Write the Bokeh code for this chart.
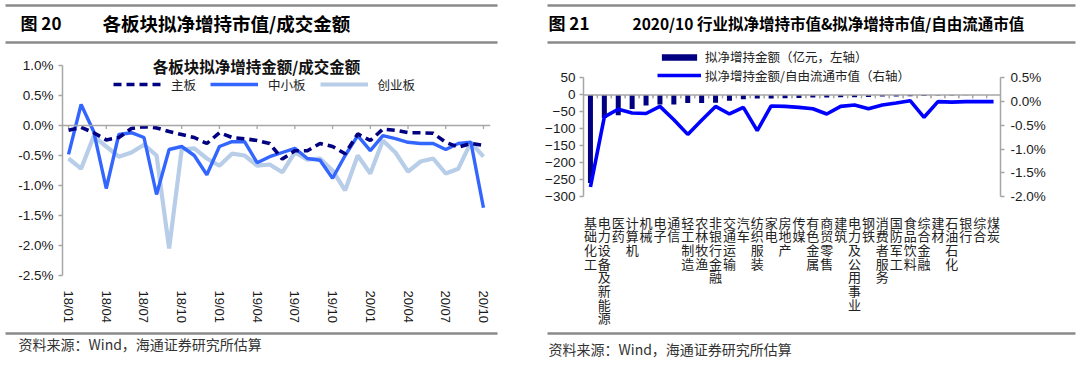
from bokeh.plotting import figure
from bokeh.models import (Range1d, FactorRange, LinearAxis, SingleIntervalTicker, FixedTicker,
                          PrintfTickFormatter, Span, Label, Legend, LegendItem, ColumnDataSource)
from bokeh.layouts import row, column
from bokeh.core.properties import value
from bokeh.transform import dodge
from bokeh.embed import file_html
from bokeh.resources import INLINE

CJK = "Noto Sans CJK SC"
LAT = "Liberation Sans"
RULE = "#8a8a8a"
AXIS = "#a6a6a6"

# ---------------- data: figure 20 ----------------
months = ["18/01", "18/02", "18/03", "18/04", "18/05", "18/06", "18/07", "18/08", "18/09", "18/10",
          "18/11", "18/12", "19/01", "19/02", "19/03", "19/04", "19/05", "19/06", "19/07", "19/08",
          "19/09", "19/10", "19/11", "19/12", "20/01", "20/02", "20/03", "20/04", "20/05", "20/06",
          "20/07", "20/08", "20/09", "20/10"]
tick_labels = ["18/01", "18/04", "18/07", "18/10", "19/01", "19/04", "19/07", "19/10",
               "20/01", "20/04", "20/07", "20/10"]
main_board = [-0.08, -0.03, -0.12, -0.24, -0.20, -0.05, -0.02, -0.04, -0.10, -0.15,
              -0.20, -0.30, -0.12, -0.20, -0.22, -0.25, -0.30, -0.56, -0.42, -0.42,
              -0.30, -0.35, -0.47, -0.14, -0.25, -0.06, -0.08, -0.12, -0.12, -0.13,
              -0.28, -0.36, -0.30, -0.33]
sme_board = [-0.48, 0.35, -0.10, -1.05, -0.15, -0.12, -0.20, -1.15, -0.40, -0.35,
             -0.50, -0.82, -0.35, -0.27, -0.27, -0.62, -0.52, -0.45, -0.38, -0.55,
             -0.58, -0.88, -0.50, -0.17, -0.42, -0.17, -0.22, -0.28, -0.30, -0.30,
             -0.40, -0.30, -0.28, -1.37]
gem_board = [-0.55, -0.72, -0.18, -0.35, -0.52, -0.45, -0.32, -0.50, -2.05, -0.40,
             -0.38, -0.55, -0.67, -0.47, -0.50, -0.67, -0.65, -0.78, -0.45, -0.57,
             -0.55, -0.75, -1.08, -0.50, -0.80, -0.25, -0.45, -0.77, -0.60, -0.55,
             -0.80, -0.72, -0.28, -0.52]
series_names = ["主板", "中小板", "创业板"]

# ---------------- data: figure 21 ----------------
industries = ["基础化工", "电力设备及新能源", "医药", "计算机", "机械", "电子", "通信", "轻工制造",
              "农林牧渔", "非银行金融", "交通运输", "汽车", "纺织服装", "家电", "房地产", "传媒",
              "有色金属", "商贸零售", "建筑", "电力及公用事业", "钢铁", "消费者服务", "国防军工",
              "食品饮料", "综合金融", "建材", "石油石化", "银行", "综合", "煤炭"]
net_amount = [-260, -68, -60, -42, -31, -28, -28, -24, -24, -23, -17, -13, -11, -11, -10,
              -9, -8, -8, -7, -7, -6, -5, -5, -4, -3, -2, -1.5, -1, -0.5, -0.3]
net_ratio = [-1.80, -0.32, -0.16, -0.24, -0.25, -0.10, -0.38, -0.69, -0.39, -0.10,
             -0.26, -0.12, -0.61, -0.09, -0.10, -0.12, -0.15, -0.26, -0.10, -0.07,
             -0.15, -0.07, -0.03, 0.02, -0.33, 0.00, -0.01, 0.00, 0.00, 0.00]
legend21 = ["拟净增持金额（亿元，左轴）", "拟净增持金额/自由流通市值（右轴）"]
source_text = "资料来源：Wind，海通证券研究所估算"

PANEL_W = 540
HEAD_H = 44
CHART_H = 286
FOOT_H = 35


def deco(height):
    return figure(width=PANEL_W, height=height, x_range=Range1d(0, PANEL_W),
                  y_range=Range1d(height, 0), x_axis_type=None, y_axis_type=None,
                  toolbar_location=None, output_backend="svg", min_border=0,
                  outline_line_color=None)


def header(fig_no, title, x_no, x_title, size, rule_x0, rule_x1):
    d = deco(HEAD_H)
    d.segment(x0=[rule_x0, rule_x0], y0=[5, 42], x1=[rule_x1, rule_x1], y1=[5, 42],
              line_color=RULE, line_width=2.4)
    d.text(x=[x_no], y=[22], text=[fig_no], text_font=value(CJK), text_font_style="bold",
           text_font_size=value("17px"), text_baseline="middle", text_color="#000000")
    d.text(x=[x_title], y=[22], text=[title], text_font=value(CJK), text_font_style="bold",
           text_font_size=value(size), text_baseline="middle", text_color="#000000")
    return d


def footer(x_text, y_text, rule_x0, rule_x1):
    d = deco(FOOT_H)
    d.segment(x0=[rule_x0], y0=[3], x1=[rule_x1], y1=[3], line_color=RULE, line_width=2.4)
    d.text(x=[x_text], y=[y_text], text=[source_text], text_font=value(CJK),
           text_font_size=value("14px"), text_baseline="middle", text_color="#333333")
    return d


def style_y(ax, interval, bounds, fmt=None, standoff=5):
    ax.ticker = SingleIntervalTicker(interval=interval, num_minor_ticks=0)
    ax.bounds = bounds
    if fmt:
        ax.formatter = PrintfTickFormatter(format=fmt)
    ax.axis_line_color = AXIS
    ax.axis_line_width = 1.5
    ax.major_tick_line_color = AXIS
    ax.major_tick_line_width = 1.5
    ax.major_tick_out = 4
    ax.major_tick_in = 0
    ax.minor_tick_line_color = None
    ax.major_label_standoff = standoff
    ax.major_label_text_font = LAT
    ax.major_label_text_font_size = "13.5px"
    ax.major_label_text_color = "#1a1a1a"


def one_legend(label, renderer, loc, glyph_h, size):
    return Legend(items=[LegendItem(label=label, renderers=[renderer])],
                  orientation="horizontal", location=loc, glyph_width=44, glyph_height=glyph_h,
                  label_height=glyph_h, padding=0, margin=0, spacing=0, label_standoff=4,
                  border_line_color=None, background_fill_alpha=0,
                  label_text_font=CJK, label_text_font_size=size, label_text_color="#222222")


# ================= Figure 20 =================
x_idx = list(range(len(months)))
tick_pos = [months.index(t) for t in tick_labels]
src20 = ColumnDataSource(dict(x=x_idx, main=main_board, sme=sme_board, gem=gem_board))

# frame spans page y 44..275; the axis itself (1.0% .. -2.5%) spans y 65..275 -> 60 px per 1 %
y_top_20 = 1.0 + 21 / 60
p1 = figure(width=PANEL_W, height=CHART_H, x_range=Range1d(-0.48, 33.56),
            y_range=Range1d(-2.5, y_top_20),
            output_backend="svg", toolbar_location=None, outline_line_color=None,
            min_border_left=62, min_border_right=50, min_border_top=0, min_border_bottom=55)
p1.grid.visible = False
style_y(p1.yaxis[0], 0.5, (-2.5, 1.0), "%.1f%%")

p1.xaxis.ticker = FixedTicker(ticks=tick_pos)
p1.xaxis.major_label_overrides = {pos: lab for pos, lab in zip(tick_pos, tick_labels)}
p1.xaxis.major_label_orientation = "vertical"
p1.xaxis.axis_line_color = None
p1.xaxis.major_tick_line_color = None
p1.xaxis.minor_tick_line_color = None
p1.xaxis.major_label_standoff = 9
p1.xaxis.major_label_text_font = LAT
p1.xaxis.major_label_text_font_size = "13px"
p1.xaxis.major_label_text_color = "#1a1a1a"

p1.add_layout(Span(location=0, dimension="width", line_color=AXIS, line_width=1.5))
p1.segment(x0=tick_pos, y0=[0] * len(tick_pos), x1=tick_pos, y1=[-0.06] * len(tick_pos),
           line_color=AXIS, line_width=1.3)

r_gem = p1.line("x", "gem", source=src20, line_color="#b8cde8", line_width=4.2)
r_sme = p1.line("x", "sme", source=src20, line_color="#3366ff", line_width=3.4)
r_main = p1.line("x", "main", source=src20, line_color="#000080", line_width=3.6, line_dash="8 5")

p1.add_layout(Label(x=194, y=210, x_units="screen", y_units="screen",
                    text="各板块拟净增持金额/成交金额", text_align="center", text_baseline="middle",
                    text_font=CJK, text_font_style="bold", text_font_size="15.5px",
                    text_color="#111111"))

leg1 = Legend(items=[LegendItem(label=series_names[0], renderers=[r_main]),
                     LegendItem(label=series_names[1], renderers=[r_sme]),
                     LegendItem(label=series_names[2], renderers=[r_gem])],
              orientation="horizontal", location=(51, 181.5), glyph_width=48, glyph_height=14,
              label_height=14, padding=0, margin=0, spacing=14, label_standoff=10,
              border_line_color=None, background_fill_alpha=0,
              label_text_font=CJK, label_text_font_size="12.5px", label_text_color="#222222")
p1.add_layout(leg1)

# ================= Figure 21 =================
cats = ["\n".join(name) for name in industries]
src21 = ColumnDataSource(dict(cat=cats, amount=net_amount, ratio=net_ratio))

# frame spans page y 44..203; axes (50 .. -300 and 0.5% .. -2.0%) span y 79..203
y_top_21 = 50 + 35 * 350 / 124
y2_top_21 = 0.5 + 35 * 2.5 / 124
p2 = figure(width=PANEL_W, height=CHART_H, x_range=FactorRange(factors=cats),
            y_range=Range1d(-300, y_top_21),
            output_backend="svg", toolbar_location=None, outline_line_color=None,
            min_border_left=43, min_border_right=80, min_border_top=0, min_border_bottom=127)
p2.grid.visible = False
p2.extra_y_ranges = {"pct": Range1d(-2.0, y2_top_21)}
p2.add_layout(LinearAxis(y_range_name="pct"), "right")
style_y(p2.yaxis[0], 50, (-300, 50), None, 4)
style_y(p2.yaxis[1], 0.5, (-2.0, 0.5), "%.1f%%", 6)

p2.xaxis.axis_line_color = None
p2.xaxis.major_tick_line_color = None
p2.xaxis.minor_tick_line_color = None
p2.xaxis.major_label_standoff = 10
p2.xaxis.major_label_text_font = CJK
p2.xaxis.major_label_text_font_size = "13px"
p2.xaxis.major_label_text_line_height = 0.72
p2.xaxis.major_label_text_color = "#222222"

p2.add_layout(Span(location=0, dimension="width", line_color=AXIS, line_width=1.5))
for off in (-0.5, 0.5):
    p2.segment(x0=dodge("cat", off, range=p2.x_range), y0=0, x1=dodge("cat", off, range=p2.x_range),
               y1=-10, source=src21, line_color=AXIS, line_width=1.2)

r_bar = p2.vbar(x="cat", top="amount", width=0.36, source=src21, fill_color="#000080",
                line_color=None)
r_line = p2.line(x="cat", y="ratio", source=src21, y_range_name="pct", line_color="#0000ff",
                 line_width=3.6)

# two single-item legends
p2.add_layout(one_legend(legend21[0], r_bar, (74, 130), 8, "12.5px"))
p2.add_layout(one_legend(legend21[1], r_line, (74, 111.5), 8, "12.5px"))

# ================= layout =================
left = column(row(header("图 20", "各板块拟净增持市值/成交金额", 20, 102, "18.5px", 5, 497)),
              row(p1),
              row(footer(18, 13, 5, 497)))
right = column(row(header("图 21", "2020/10 行业拟净增持市值&拟净增持市值/自由流通市值", 8, 92, "15.5px", 7, 535)),
               row(p2),
               row(footer(8, 18, 7, 535)))
page = row(left, right)

open("out.html", "w").write(file_html(page, INLINE))
